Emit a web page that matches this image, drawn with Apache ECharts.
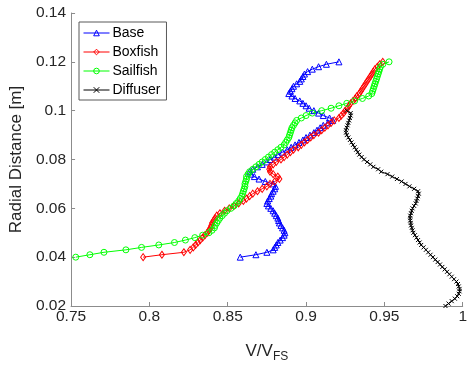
<!DOCTYPE html>
<html>
<head>
<meta charset="utf-8">
<script src="https://cdn.jsdelivr.net/npm/echarts@6/dist/echarts.min.js"></script>
<style>
  html, body { margin: 0; padding: 0; background: #fff; }
  #chart { width: 470px; height: 368px; }
</style>
</head>
<body>
<div id="chart"></div>
<script>
// radial positions [m]
const radial = [
  0.040, 0.041, 0.042, 0.043, 0.044, 0.045, 0.046, 0.047, 0.048, 0.049,
  0.050, 0.051, 0.052, 0.053, 0.054, 0.055, 0.056, 0.057, 0.058, 0.059,
  0.060, 0.061, 0.062, 0.063, 0.064, 0.065, 0.066, 0.067, 0.068, 0.069,
  0.070, 0.071, 0.072, 0.073, 0.074, 0.075, 0.076, 0.077, 0.078, 0.079,
  0.080, 0.081, 0.082, 0.083, 0.084, 0.085, 0.086, 0.087, 0.088, 0.089,
  0.090, 0.091, 0.092, 0.093, 0.094, 0.095, 0.096, 0.097, 0.098, 0.099,
  0.100, 0.101, 0.102, 0.103, 0.104, 0.105, 0.106, 0.107, 0.108, 0.109,
  0.110, 0.111, 0.112, 0.113, 0.114, 0.115, 0.116, 0.117, 0.118, 0.119,
  0.120
];
const radialDiffuser = [
  0.020, 0.021, 0.022, 0.023, 0.024, 0.025, 0.026, 0.027, 0.028, 0.029,
  0.030, 0.031, 0.032, 0.033, 0.034, 0.035, 0.036, 0.037, 0.038, 0.039,
  0.040, 0.041, 0.042, 0.043, 0.044, 0.045, 0.046, 0.047, 0.048, 0.049,
  0.050, 0.051, 0.052, 0.053, 0.054, 0.055, 0.056, 0.057, 0.058, 0.059,
  0.060, 0.061, 0.062, 0.063, 0.064, 0.065, 0.066, 0.067, 0.068, 0.069,
  0.070, 0.071, 0.072, 0.073, 0.074, 0.075, 0.076, 0.077, 0.078, 0.079,
  0.080, 0.081, 0.082, 0.083, 0.084, 0.085, 0.086, 0.087, 0.088, 0.089,
  0.090, 0.091, 0.092, 0.093, 0.094, 0.095, 0.096, 0.097, 0.098, 0.099,
  0.100
];

// V/VFS
const base = [
  0.858, 0.868, 0.875, 0.879, 0.880, 0.881, 0.882, 0.8835, 0.885, 0.886,
  0.8865, 0.886, 0.885, 0.884, 0.883, 0.8825, 0.882, 0.881, 0.880, 0.879,
  0.8775, 0.876, 0.875, 0.8755, 0.8765, 0.8775, 0.878, 0.879, 0.880, 0.8805,
  0.879, 0.874, 0.870, 0.867, 0.865, 0.864, 0.866, 0.869, 0.872, 0.875,
  0.877, 0.880, 0.882, 0.885, 0.888, 0.8905, 0.893, 0.8955, 0.898, 0.900,
  0.9025, 0.905, 0.907, 0.909, 0.911, 0.914, 0.917, 0.915, 0.911, 0.908,
  0.905, 0.902, 0.900, 0.898, 0.896, 0.893, 0.891, 0.889, 0.890, 0.891,
  0.892, 0.894, 0.896, 0.897, 0.898, 0.899, 0.901, 0.904, 0.908, 0.913,
  0.921
];
const boxfish = [
  0.796, 0.808, 0.822, 0.826, 0.828, 0.8295, 0.831, 0.8325, 0.834, 0.8355,
  0.837, 0.838, 0.839, 0.8395, 0.840, 0.841, 0.842, 0.843, 0.845, 0.848,
  0.851, 0.854, 0.857, 0.860, 0.862, 0.864, 0.866, 0.869, 0.872, 0.875,
  0.877, 0.880, 0.883, 0.882, 0.879, 0.877, 0.8765, 0.877, 0.879, 0.881,
  0.884, 0.886, 0.888, 0.890, 0.892, 0.895, 0.897, 0.899, 0.901, 0.903,
  0.905, 0.908, 0.910, 0.912, 0.914, 0.916, 0.918, 0.921, 0.9225, 0.924,
  0.925, 0.9265, 0.9275, 0.9285, 0.930, 0.9315, 0.9325, 0.934, 0.935, 0.936,
  0.937, 0.938, 0.939, 0.940, 0.941, 0.942, 0.943, 0.944, 0.9455, 0.947,
  0.949
];
const sailfish = [
  0.753, 0.762, 0.771, 0.785, 0.795, 0.806, 0.816, 0.823, 0.829, 0.834,
  0.838, 0.840, 0.8415, 0.842, 0.843, 0.844, 0.845, 0.8465, 0.848, 0.8495,
  0.852, 0.854, 0.8555, 0.857, 0.858, 0.859, 0.8595, 0.860, 0.8605, 0.861,
  0.861, 0.8615, 0.862, 0.862, 0.863, 0.864, 0.866, 0.868, 0.870, 0.872,
  0.874, 0.876, 0.878, 0.880, 0.882, 0.884, 0.886, 0.887, 0.888, 0.889,
  0.8895, 0.890, 0.8905, 0.891, 0.892, 0.893, 0.894, 0.897, 0.900, 0.904,
  0.910, 0.916, 0.921, 0.926, 0.931, 0.936, 0.940, 0.942, 0.9425, 0.943,
  0.9435, 0.944, 0.9445, 0.945, 0.9455, 0.946, 0.9465, 0.947, 0.9475, 0.949,
  0.953
];
const diffuser = [
  0.989, 0.991, 0.993, 0.995, 0.9965, 0.9975, 0.998, 0.998, 0.9975, 0.997,
  0.996, 0.9945, 0.993, 0.9915, 0.990, 0.9885, 0.987, 0.9855, 0.984, 0.9825,
  0.981, 0.9795, 0.978, 0.9765, 0.975, 0.9735, 0.9725, 0.9715, 0.9705, 0.9695,
  0.9685, 0.968, 0.9675, 0.967, 0.9668, 0.9665, 0.9665, 0.9665, 0.967, 0.9675,
  0.968, 0.969, 0.970, 0.9705, 0.971, 0.9715, 0.972, 0.9715, 0.969, 0.966,
  0.9635, 0.961, 0.958, 0.955, 0.952, 0.948, 0.946, 0.943, 0.941, 0.939,
  0.937, 0.9355, 0.934, 0.933, 0.932, 0.931, 0.930, 0.929, 0.928, 0.927,
  0.926, 0.9255, 0.9255, 0.926, 0.9265, 0.927, 0.9275, 0.928, 0.9285, 0.9285,
  0.926
];

const font = '"Liberation Sans", Arial, sans-serif';
const axisColor = '#8c8c8c';
const textColor = '#262626';
const hollow = 'rgba(255,255,255,0)';

const pairs = (vs, rs) => vs.map((v, i) => [v, rs[i]]);

const makeSeries = (name, vs, rs, color, symbol, size) => ({
  name: name,
  type: 'line',
  data: pairs(vs, rs),
  symbol: symbol,
  symbolSize: size,
  showSymbol: true,
  animation: false,
  lineStyle: { color: color, width: 1 },
  itemStyle: { color: hollow, borderColor: color, borderWidth: 1 },
  emphasis: { disabled: true }
});

const legendItem = (name, color) => ({
  name: name,
  itemStyle: { color: hollow, borderColor: color, borderWidth: 1 },
  lineStyle: { color: color, width: 1 }
});

const chart = echarts.init(document.getElementById('chart'));

chart.setOption({
  animation: false,
  textStyle: { fontFamily: font },
  grid: { left: 70, right: 6, top: 13, bottom: 56 },
  legend: {
    orient: 'vertical',
    left: 79,
    top: 22,
    padding: [4, 6, 3, 4],
    itemWidth: 26,
    itemHeight: 7,
    itemGap: 5,
    backgroundColor: '#fff',
    borderColor: '#595959',
    borderWidth: 1,
    borderRadius: 0,
    textStyle: { fontFamily: font, fontSize: 14, color: '#000', padding: [0, 0, 0, -2] },
    data: [
      legendItem('Base', '#0000ff'),
      legendItem('Boxfish', '#ff0000'),
      legendItem('Sailfish', '#00ff00'),
      legendItem('Diffuser', '#000000')
    ]
  },
  xAxis: {
    type: 'value',
    min: 0.75,
    max: 1,
    interval: 0.05,
    name: '{a|V/V}{b|FS}',
    nameLocation: 'middle',
    nameGap: 33,
    nameTextStyle: {
      rich: {
        a: { fontFamily: font, fontSize: 17, color: textColor },
        b: { fontFamily: font, fontSize: 12, color: textColor, padding: [12, 0, 0, 0] }
      }
    },
    axisLine: { lineStyle: { color: axisColor, width: 1 } },
    axisTick: { inside: true, length: 4, lineStyle: { color: axisColor } },
    axisLabel: { fontFamily: font, fontSize: 15.5, color: textColor, margin: 3 },
    splitLine: { show: false }
  },
  yAxis: {
    type: 'value',
    min: 0.02,
    max: 0.14,
    interval: 0.02,
    name: 'Radial Distance [m]',
    nameLocation: 'middle',
    nameGap: 43,
    nameTextStyle: { fontFamily: font, fontSize: 17, color: textColor },
    axisLine: { show: true, lineStyle: { color: axisColor, width: 1 } },
    axisTick: { show: true, inside: true, length: 4, lineStyle: { color: axisColor } },
    axisLabel: { fontFamily: font, fontSize: 15.5, color: textColor, margin: 5 },
    splitLine: { show: false }
  },
  series: [
    makeSeries('Base', base, radial, '#0000ff', 'triangle', 6),
    makeSeries('Boxfish', boxfish, radial, '#ff0000', 'diamond', [5, 7]),
    makeSeries('Sailfish', sailfish, radial, '#00ff00', 'circle', 6),
    makeSeries('Diffuser', diffuser, radialDiffuser, '#000000', 'path://M0,0L10,10M10,0L0,10', 4)
  ]
});
</script>
</body>
</html>
